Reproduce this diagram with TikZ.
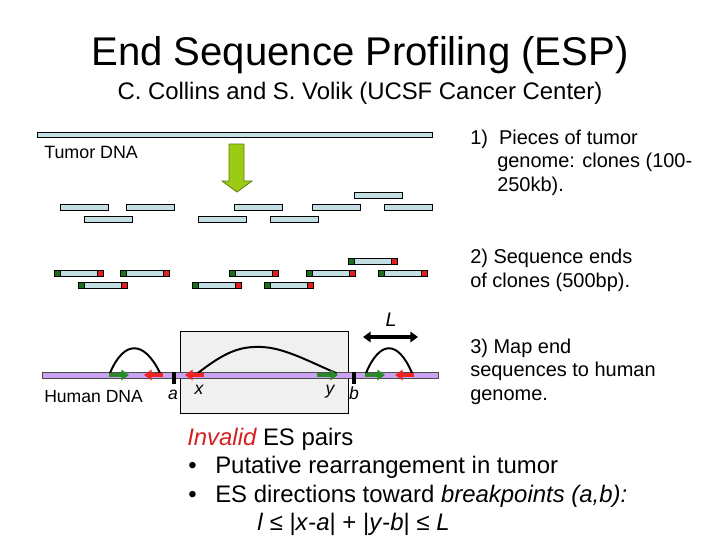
\documentclass[tikz,border=0pt]{standalone}
\usepackage{fontspec}
\setmainfont{Liberation Sans}
\usetikzlibrary{arrows.meta}
\definecolor{clonefill}{HTML}{C4DFE3}
\definecolor{endgreen}{HTML}{1B6E1B}
\definecolor{endred}{HTML}{E41E1E}
\definecolor{esgreen}{HTML}{2A8A2A}
\definecolor{esred}{HTML}{F02424}
\definecolor{lavender}{HTML}{C9A3F2}
\definecolor{boxgray}{HTML}{F0F0F0}
\definecolor{arrowgreen}{HTML}{9CCB14}
\definecolor{arrowdark}{HTML}{5E7E10}
\definecolor{invalidred}{HTML}{D42020}
\begin{document}
\begin{tikzpicture}[x=0.025cm,y=-0.025cm,
  clone/.style={draw=black,line width=0.5pt,fill=clonefill},
  esarrow/.style={line width=2.4pt,-{Triangle[length=5.5pt,width=7.5pt]}},
  hump/.style={line width=1.4pt,line cap=round},
  bigtxt/.style={font=\fontsize{17}{20}\selectfont,anchor=base west,inner sep=0pt},
  steptxt/.style={font=\fontsize{14.2}{17}\selectfont,anchor=base west,inner sep=0pt}]
\useasboundingbox (0,0) rectangle (720,540);

% title
\node (title) at (360,55) {\fontsize{28.5}{32}\selectfont End Sequence Profiling (ESP)};
\node (subtitle) at (360,93) {\fontsize{17}{20}\selectfont C. Collins and S. Volik (UCSF Cancer Center)};

% tumor DNA and clones
\draw[clone] (37,132) rectangle (432,137);
\node[anchor=base west,inner sep=0pt] (tumor) at (44,158) {\fontsize{12.7}{15}\selectfont Tumor DNA};
\draw[fill=arrowgreen,draw=arrowdark,line width=0.6pt] (229,144) -- (244,144) -- (244,181) -- (252,181)
  -- (237,192) -- (222,181) -- (229,181) -- cycle;
\foreach \x/\y in {354/192, 60/204, 126/204, 234/204, 312/204, 384/204, 84/216, 198/216, 270/216}
  \draw[clone] (\x,\y) rectangle +(48,6);

% sequenced ends
\foreach \x/\y in {348/258, 54/270, 120/270, 229/270, 306/270, 378/270, 78/282, 192/282, 264/282}{
  \draw[clone] (\x,\y) rectangle +(49,6);
  \draw[fill=endgreen,line width=0.5pt] (\x,\y) rectangle +(6,6);
  \draw[fill=endred,line width=0.5pt] (\x+43,\y) rectangle +(6,6);
}

% human genome
\draw[fill=boxgray,line width=0.6pt] (180,331) rectangle (348,413);
\draw[fill=lavender,draw=black!70,line width=0.5pt] (42,372) rectangle (438,378);
\node[anchor=base west,inner sep=0pt] (human) at (44,402) {\fontsize{12.5}{15}\selectfont Human DNA};

\coordinate (a) at (174,372);
\coordinate (b) at (354,372);
\draw[line width=2.2pt] (a) -- ++(0,12);
\draw[line width=2.2pt] (b) -- ++(0,12);
\node[anchor=base,inner sep=0pt] (alab) at (173,399) {\fontsize{12.5}{14}\selectfont\itshape a};
\node[anchor=base,inner sep=0pt] (blab) at (354,399) {\fontsize{12.5}{14}\selectfont\itshape b};
\node[anchor=base,inner sep=0pt] (xlab) at (199,394) {\fontsize{12.5}{14}\selectfont\itshape x};
\node[anchor=base,inner sep=0pt] (ylab) at (330,394) {\fontsize{12.5}{14}\selectfont\itshape y};

% end sequence pairs
\coordinate (g1) at (109,375); \coordinate (g1t) at (129,375);
\coordinate (r1) at (163,375); \coordinate (r1t) at (144,375);
\coordinate (r2) at (204,375); \coordinate (r2t) at (185,375);
\coordinate (g2) at (317,375); \coordinate (g2t) at (338,375);
\coordinate (g3) at (365,375); \coordinate (g3t) at (385,375);
\coordinate (r3) at (414,375); \coordinate (r3t) at (395,375);
\draw[hump] (110,373) .. controls (124,340) and (144,340) .. (160,373);
\draw[hump] (198,373) .. controls (225,352) and (240,346) .. (262,347)
  .. controls (285,348) and (310,362) .. (336,373);
\draw[hump] (366,373) .. controls (380,340) and (398,340) .. (412,373);
\draw[esarrow,esgreen] (g1) -- (g1t);
\draw[esarrow,esred] (r1) -- (r1t);
\draw[esarrow,esred] (r2) -- (r2t);
\draw[esarrow,esgreen] (g2) -- (g2t);
\draw[esarrow,esgreen] (g3) -- (g3t);
\draw[esarrow,esred] (r3) -- (r3t);

% insert length
\coordinate (L1) at (363,337);
\coordinate (L2) at (418,337);
\draw[line width=2.4pt,{Triangle[length=5.5pt,width=7.5pt]}-{Triangle[length=5.5pt,width=7.5pt]}] (L1) -- (L2);
\node[anchor=base,inner sep=0pt] (Llab) at (391,326) {\fontsize{14}{16}\selectfont\itshape L};

% steps
\node[steptxt] (s1a) at (470,144) {1)\ \ Pieces of tumor};
\node[steptxt] (s1b) at (497,167) {genome: clones (100-};
\node[steptxt] (s1c) at (497,191) {250kb).};
\node[steptxt] (s2a) at (470,263) {2) Sequence ends};
\node[steptxt] (s2b) at (470,287) {of clones (500bp).};
\node[steptxt] (s3a) at (470,353) {3) Map end};
\node[steptxt] (s3b) at (470,376) {sequences to human};
\node[steptxt] (s3c) at (470,400) {genome.};

% invalid pairs
\node[bigtxt] (inv) at (187,445) {\textcolor{invalidred}{\itshape Invalid} ES pairs};
\node[bigtxt] (dot1) at (188,473) {•};
\node[bigtxt] (put) at (215,473) {Putative rearrangement in tumor};
\node[bigtxt] (dot2) at (188,502) {•};
\node[bigtxt] (dir) at (215,502) {ES directions toward \textit{breakpoints (a,b):}};
\node[bigtxt] (form) at (257,530) {\textit{l} ≤ |\textit{x}-\textit{a}| + |\textit{y}-\textit{b}| ≤ \textit{L}};
\end{tikzpicture}
\end{document}
